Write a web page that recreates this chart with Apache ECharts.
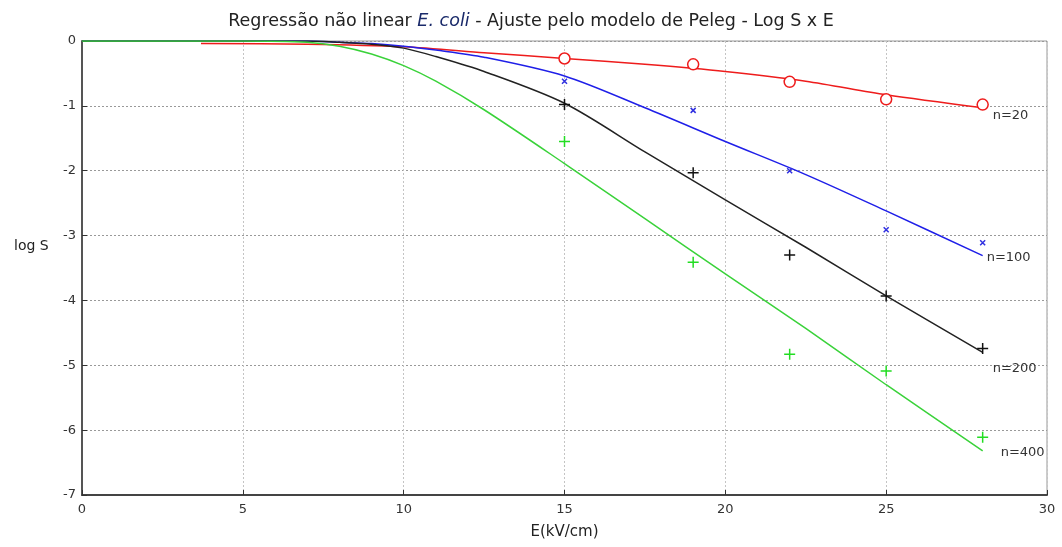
<!DOCTYPE html>
<html>
<head>
<meta charset="utf-8">
<script src="https://cdn.jsdelivr.net/npm/echarts@6/dist/echarts.min.js"></script>
<style>
    html, body { margin: 0; padding: 0; background: #fff; }
    #main { width: 1062px; height: 547px; }
</style>
</head>
<body>
<div id="main"></div>
<script>
    // pontos medidos (E, log S)
    var E = [15, 19, 22, 25, 28];
    var obs20 = [-0.27, -0.36, -0.63, -0.90, -0.98];
    var obs100 = [-0.62, -1.07, -2.00, -2.91, -3.11];
    var obs200 = [-0.98, -2.03, -3.30, -3.93, -4.74];
    var obs400 = [-1.55, -3.41, -4.83, -5.09, -6.11];

    // curvas ajustadas
    var fit20E = [3.7, 7, 10, 12.5, 15, 17.5, 20, 22.5, 25, 28];
    var fit20 = [-0.04, -0.05, -0.09, -0.18, -0.27, -0.36, -0.47, -0.62, -0.83, -1.03];
    var fitE = [0, 5, 7, 8, 9, 10, 11, 12.5, 15, 17.5, 20, 22.5, 25, 28];
    var fit100 = [0, 0, 0, -0.02, -0.04, -0.08, -0.14, -0.25, -0.54, -1.03, -1.55, -2.06, -2.62, -3.31];
    var fit200 = [0, 0, 0, -0.02, -0.05, -0.11, -0.24, -0.47, -0.96, -1.71, -2.45, -3.18, -3.93, -4.80];
    var fit400 = [0, 0, -0.02, -0.08, -0.2, -0.38, -0.62, -1.06, -1.89, -2.74, -3.59, -4.43, -5.30, -6.32];

    function pairs(xs, ys) {
        var out = [];
        for (var i = 0; i < xs.length; i++) out.push([xs[i], ys[i]]);
        return out;
    }

    var plus = 'path://M0,5L10,5M5,0L5,10';
    var cross = 'path://M0,0L10,10M10,0L0,10';

    function fitLine(name, xs, data, color, offset) {
        return {
            name: name, type: 'line', smooth: 0.3, showSymbol: false, symbol: 'none',
            data: pairs(xs, data),
            lineStyle: { color: color, width: 1.5 },
            endLabel: {
                show: true, formatter: name, offset: offset,
                color: '#333', fontSize: 13, fontFamily: 'DejaVu Sans'
            },
            z: 2
        };
    }
    function obsPoints(name, data, color, symbol, size) {
        return {
            name: name, type: 'scatter', symbol: symbol, symbolSize: size,
            data: pairs(E, data),
            itemStyle: { color: symbol === 'circle' ? '#fff' : 'none', borderColor: color, borderWidth: 1.5, opacity: 1 },
            z: 3
        };
    }

    var myChart = echarts.init(document.getElementById('main'));
    var option = {
        backgroundColor: '#fff',
        animation: false,
        title: {
            text: 'Regressão não linear {i|E. coli} - Ajuste pelo modelo de Peleg - Log S x E',
            left: 'center', top: 7,
            textStyle: {
                fontSize: 17.5, fontWeight: 'normal', color: '#222', fontFamily: 'DejaVu Sans',
                rich: { i: { fontStyle: 'italic', color: '#1a2a6a', fontSize: 17.5, fontFamily: 'DejaVu Sans' } }
            }
        },
        // rotulo do eixo y, um pouco acima do centro como no original
        graphic: [{
            type: 'text', left: 14, top: 239,
            style: { text: 'log S', fill: '#222', fontSize: 14, fontFamily: 'DejaVu Sans' }
        }],
        grid: {
            left: 82, right: 15, top: 41, bottom: 52, outerBoundsMode: 'none',
            show: true, borderColor: '#999', borderWidth: 1
        },
        xAxis: {
            type: 'value', min: 0, max: 30, interval: 5,
            name: 'E(kV/cm)', nameLocation: 'middle', nameGap: 30,
            nameTextStyle: { color: '#222', fontSize: 15, fontFamily: 'DejaVu Sans' },
            axisLine: { show: true, onZero: false, lineStyle: { color: '#444', width: 2 } },
            axisTick: { show: true, inside: true, length: 5, lineStyle: { color: '#333' } },
            axisLabel: { color: '#333', fontSize: 13, margin: 8, fontFamily: 'DejaVu Sans' },
            splitLine: { show: true, lineStyle: { color: '#c4c4c4', type: [2, 2], width: 1 } }
        },
        yAxis: {
            type: 'value', min: -7, max: 0, interval: 1,
            axisLine: { show: true, onZero: false, lineStyle: { color: '#555', width: 2 } },
            axisTick: { show: true, inside: true, length: 5, lineStyle: { color: '#333' } },
            axisLabel: { color: '#333', fontSize: 13, margin: 6, fontFamily: 'DejaVu Sans' },
            splitLine: { show: true, lineStyle: { color: '#999', type: [2, 2], width: 1 } }
        },
        series: [
            fitLine('n=20', fit20E, fit20, '#ee1c1c', [2, 8]),
            fitLine('n=100', fitE, fit100, '#1f1fe8', [-4, 2]),
            fitLine('n=200', fitE, fit200, '#222222', [2, 16]),
            fitLine('n=400', fitE, fit400, '#3ad23a', [10, 2]),
            obsPoints('obs20', obs20, '#ee1c1c', 'circle', 11),
            obsPoints('obs100', obs100, '#3030e0', cross, 5),
            obsPoints('obs200', obs200, '#111111', plus, 11),
            obsPoints('obs400', obs400, '#22dd22', plus, 11)
        ]
    };
    myChart.setOption(option);
</script>
</body>
</html>
